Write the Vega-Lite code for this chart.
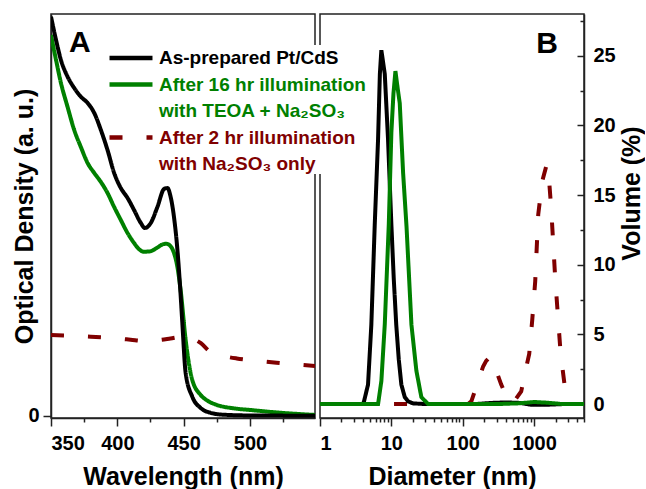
{
  "$schema": "https://vega.github.io/schema/vega-lite/v6.json",
  "background": "white",
  "padding": {"left": 11, "top": 13, "right": 0, "bottom": 0},
  "config": {
    "font": "Liberation Sans",
    "view": {"stroke": "#222222", "strokeWidth": 1.5},
    "axis": {
      "labelFont": "Liberation Sans", "labelFontWeight": "bold", "labelFontSize": 20, "labelColor": "black",
      "titleFont": "Liberation Sans", "titleFontWeight": "bold", "titleFontSize": 25, "titleColor": "black",
      "domainColor": "#222222", "domainWidth": 1.5, "tickColor": "#222222", "tickWidth": 1.5, "grid": false
    }
  },
  "datasets": {
    "uv": [
      {"series": "After 2 hr illumination", "wavelength": 350, "od": 0.323},
      {"series": "After 2 hr illumination", "wavelength": 365, "od": 0.320},
      {"series": "After 2 hr illumination", "wavelength": 380, "od": 0.316},
      {"series": "After 2 hr illumination", "wavelength": 395, "od": 0.311},
      {"series": "After 2 hr illumination", "wavelength": 410, "od": 0.304},
      {"series": "After 2 hr illumination", "wavelength": 420, "od": 0.299},
      {"series": "After 2 hr illumination", "wavelength": 430, "od": 0.302},
      {"series": "After 2 hr illumination", "wavelength": 440, "od": 0.309},
      {"series": "After 2 hr illumination", "wavelength": 449, "od": 0.316},
      {"series": "After 2 hr illumination", "wavelength": 455, "od": 0.311},
      {"series": "After 2 hr illumination", "wavelength": 463, "od": 0.290},
      {"series": "After 2 hr illumination", "wavelength": 470, "od": 0.256},
      {"series": "After 2 hr illumination", "wavelength": 480, "od": 0.239},
      {"series": "After 2 hr illumination", "wavelength": 490, "od": 0.229},
      {"series": "After 2 hr illumination", "wavelength": 505, "od": 0.220},
      {"series": "After 2 hr illumination", "wavelength": 520, "od": 0.212},
      {"series": "After 2 hr illumination", "wavelength": 535, "od": 0.205},
      {"series": "After 2 hr illumination", "wavelength": 549, "od": 0.199},
      {"series": "After 16 hr illumination", "wavelength": 350, "od": 1.523},
      {"series": "After 16 hr illumination", "wavelength": 353.8, "od": 1.423},
      {"series": "After 16 hr illumination", "wavelength": 357.5, "od": 1.331},
      {"series": "After 16 hr illumination", "wavelength": 362.5, "od": 1.235},
      {"series": "After 16 hr illumination", "wavelength": 367.5, "od": 1.143},
      {"series": "After 16 hr illumination", "wavelength": 372.5, "od": 1.075},
      {"series": "After 16 hr illumination", "wavelength": 377.6, "od": 1.011},
      {"series": "After 16 hr illumination", "wavelength": 382.6, "od": 0.971},
      {"series": "After 16 hr illumination", "wavelength": 387.6, "od": 0.935},
      {"series": "After 16 hr illumination", "wavelength": 392.6, "od": 0.891},
      {"series": "After 16 hr illumination", "wavelength": 397.6, "od": 0.835},
      {"series": "After 16 hr illumination", "wavelength": 402.6, "od": 0.783},
      {"series": "After 16 hr illumination", "wavelength": 407.7, "od": 0.731},
      {"series": "After 16 hr illumination", "wavelength": 412.6, "od": 0.691},
      {"series": "After 16 hr illumination", "wavelength": 416, "od": 0.668},
      {"series": "After 16 hr illumination", "wavelength": 420, "od": 0.656},
      {"series": "After 16 hr illumination", "wavelength": 425, "od": 0.658},
      {"series": "After 16 hr illumination", "wavelength": 430, "od": 0.672},
      {"series": "After 16 hr illumination", "wavelength": 434, "od": 0.685},
      {"series": "After 16 hr illumination", "wavelength": 437, "od": 0.688},
      {"series": "After 16 hr illumination", "wavelength": 440, "od": 0.679},
      {"series": "After 16 hr illumination", "wavelength": 442.7, "od": 0.651},
      {"series": "After 16 hr illumination", "wavelength": 445, "od": 0.603},
      {"series": "After 16 hr illumination", "wavelength": 447.7, "od": 0.503},
      {"series": "After 16 hr illumination", "wavelength": 451.5, "od": 0.303},
      {"series": "After 16 hr illumination", "wavelength": 456.5, "od": 0.143},
      {"series": "After 16 hr illumination", "wavelength": 462.8, "od": 0.083},
      {"series": "After 16 hr illumination", "wavelength": 468, "od": 0.060},
      {"series": "After 16 hr illumination", "wavelength": 475, "od": 0.043},
      {"series": "After 16 hr illumination", "wavelength": 487, "od": 0.030},
      {"series": "After 16 hr illumination", "wavelength": 500, "od": 0.023},
      {"series": "After 16 hr illumination", "wavelength": 525, "od": 0.011},
      {"series": "After 16 hr illumination", "wavelength": 549, "od": 0.003},
      {"series": "As-prepared Pt/CdS", "wavelength": 350, "od": 1.596},
      {"series": "As-prepared Pt/CdS", "wavelength": 353.8, "od": 1.503},
      {"series": "As-prepared Pt/CdS", "wavelength": 357.5, "od": 1.423},
      {"series": "As-prepared Pt/CdS", "wavelength": 362.5, "od": 1.356},
      {"series": "As-prepared Pt/CdS", "wavelength": 367.5, "od": 1.311},
      {"series": "As-prepared Pt/CdS", "wavelength": 372.5, "od": 1.276},
      {"series": "As-prepared Pt/CdS", "wavelength": 377.6, "od": 1.251},
      {"series": "As-prepared Pt/CdS", "wavelength": 382.6, "od": 1.211},
      {"series": "As-prepared Pt/CdS", "wavelength": 387.6, "od": 1.143},
      {"series": "As-prepared Pt/CdS", "wavelength": 392.6, "od": 1.063},
      {"series": "As-prepared Pt/CdS", "wavelength": 397.6, "od": 0.971},
      {"series": "As-prepared Pt/CdS", "wavelength": 402.6, "od": 0.911},
      {"series": "As-prepared Pt/CdS", "wavelength": 407.7, "od": 0.871},
      {"series": "As-prepared Pt/CdS", "wavelength": 412.6, "od": 0.823},
      {"series": "As-prepared Pt/CdS", "wavelength": 417.7, "od": 0.771},
      {"series": "As-prepared Pt/CdS", "wavelength": 420.7, "od": 0.751},
      {"series": "As-prepared Pt/CdS", "wavelength": 425.2, "od": 0.771},
      {"series": "As-prepared Pt/CdS", "wavelength": 430.2, "od": 0.835},
      {"series": "As-prepared Pt/CdS", "wavelength": 435.2, "od": 0.907},
      {"series": "As-prepared Pt/CdS", "wavelength": 437.7, "od": 0.911},
      {"series": "As-prepared Pt/CdS", "wavelength": 440.2, "od": 0.875},
      {"series": "As-prepared Pt/CdS", "wavelength": 442.7, "od": 0.795},
      {"series": "As-prepared Pt/CdS", "wavelength": 445.3, "od": 0.663},
      {"series": "As-prepared Pt/CdS", "wavelength": 447.5, "od": 0.500},
      {"series": "As-prepared Pt/CdS", "wavelength": 449, "od": 0.371},
      {"series": "As-prepared Pt/CdS", "wavelength": 451.5, "od": 0.171},
      {"series": "As-prepared Pt/CdS", "wavelength": 456.5, "od": 0.076},
      {"series": "As-prepared Pt/CdS", "wavelength": 462.8, "od": 0.031},
      {"series": "As-prepared Pt/CdS", "wavelength": 470, "od": 0.012},
      {"series": "As-prepared Pt/CdS", "wavelength": 480, "od": 0.004},
      {"series": "As-prepared Pt/CdS", "wavelength": 500, "od": 0.001},
      {"series": "As-prepared Pt/CdS", "wavelength": 549, "od": 0.0}
    ],
    "dls": [
      {"series": "After 2 hr illumination", "d": 10.9, "v": 0},
      {"series": "After 2 hr illumination", "d": 50, "v": 0},
      {"series": "After 2 hr illumination", "d": 119, "v": 0},
      {"series": "After 2 hr illumination", "d": 132, "v": 0.2},
      {"series": "After 2 hr illumination", "d": 193, "v": 2.7},
      {"series": "After 2 hr illumination", "d": 213, "v": 3.1},
      {"series": "After 2 hr illumination", "d": 242, "v": 3.4},
      {"series": "After 2 hr illumination", "d": 285, "v": 2.6},
      {"series": "After 2 hr illumination", "d": 346, "v": 1.4},
      {"series": "After 2 hr illumination", "d": 406, "v": 0.6},
      {"series": "After 2 hr illumination", "d": 462, "v": 0.1},
      {"series": "After 2 hr illumination", "d": 543, "v": 0.3},
      {"series": "After 2 hr illumination", "d": 659, "v": 0.9},
      {"series": "After 2 hr illumination", "d": 750, "v": 2.3},
      {"series": "After 2 hr illumination", "d": 854, "v": 3.6},
      {"series": "After 2 hr illumination", "d": 940, "v": 6.0},
      {"series": "After 2 hr illumination", "d": 1036, "v": 8.8},
      {"series": "After 2 hr illumination", "d": 1142, "v": 13.6},
      {"series": "After 2 hr illumination", "d": 1300, "v": 16.0},
      {"series": "After 2 hr illumination", "d": 1500, "v": 17.2},
      {"series": "After 2 hr illumination", "d": 1577, "v": 16.9},
      {"series": "After 2 hr illumination", "d": 1738, "v": 14.0},
      {"series": "After 2 hr illumination", "d": 1853, "v": 11.5},
      {"series": "After 2 hr illumination", "d": 1977, "v": 9.0},
      {"series": "After 2 hr illumination", "d": 2109, "v": 7.0},
      {"series": "After 2 hr illumination", "d": 2179, "v": 6.0},
      {"series": "After 2 hr illumination", "d": 2324, "v": 4.0},
      {"series": "After 2 hr illumination", "d": 2479, "v": 2.7},
      {"series": "After 2 hr illumination", "d": 2730, "v": 1.0},
      {"series": "After 2 hr illumination", "d": 3208, "v": 0.1},
      {"series": "After 2 hr illumination", "d": 3532, "v": 0},
      {"series": "After 2 hr illumination", "d": 4885, "v": 0},
      {"series": "As-prepared Pt/CdS", "d": 1, "v": 0},
      {"series": "As-prepared Pt/CdS", "d": 4.0, "v": 0},
      {"series": "As-prepared Pt/CdS", "d": 4.14, "v": 0.2},
      {"series": "As-prepared Pt/CdS", "d": 4.71, "v": 1.4},
      {"series": "As-prepared Pt/CdS", "d": 5.24, "v": 5.7},
      {"series": "As-prepared Pt/CdS", "d": 5.85, "v": 12.9},
      {"series": "As-prepared Pt/CdS", "d": 6.51, "v": 19.0},
      {"series": "As-prepared Pt/CdS", "d": 6.9, "v": 23.7},
      {"series": "As-prepared Pt/CdS", "d": 7.24, "v": 25.4},
      {"series": "As-prepared Pt/CdS", "d": 8.08, "v": 23.7},
      {"series": "As-prepared Pt/CdS", "d": 8.98, "v": 19.0},
      {"series": "As-prepared Pt/CdS", "d": 10.0, "v": 12.9},
      {"series": "As-prepared Pt/CdS", "d": 10.8, "v": 9.0},
      {"series": "As-prepared Pt/CdS", "d": 11.7, "v": 5.7},
      {"series": "As-prepared Pt/CdS", "d": 12.7, "v": 3.2},
      {"series": "As-prepared Pt/CdS", "d": 13.8, "v": 1.4},
      {"series": "As-prepared Pt/CdS", "d": 15.4, "v": 0.5},
      {"series": "As-prepared Pt/CdS", "d": 17.1, "v": 0.2},
      {"series": "As-prepared Pt/CdS", "d": 20, "v": 0.05},
      {"series": "As-prepared Pt/CdS", "d": 30, "v": 0},
      {"series": "As-prepared Pt/CdS", "d": 150, "v": 0},
      {"series": "As-prepared Pt/CdS", "d": 250, "v": 0.08},
      {"series": "As-prepared Pt/CdS", "d": 400, "v": 0.12},
      {"series": "As-prepared Pt/CdS", "d": 650, "v": 0.08},
      {"series": "As-prepared Pt/CdS", "d": 900, "v": -0.05},
      {"series": "As-prepared Pt/CdS", "d": 1500, "v": -0.05},
      {"series": "As-prepared Pt/CdS", "d": 2500, "v": 0},
      {"series": "As-prepared Pt/CdS", "d": 5000, "v": 0},
      {"series": "After 16 hr illumination", "d": 1, "v": 0},
      {"series": "After 16 hr illumination", "d": 6.51, "v": 0},
      {"series": "After 16 hr illumination", "d": 7.24, "v": 1.65},
      {"series": "After 16 hr illumination", "d": 8.08, "v": 5.7},
      {"series": "After 16 hr illumination", "d": 9.2, "v": 12.9},
      {"series": "After 16 hr illumination", "d": 10.0, "v": 19.5},
      {"series": "After 16 hr illumination", "d": 10.7, "v": 22.3},
      {"series": "After 16 hr illumination", "d": 11.4, "v": 23.9},
      {"series": "After 16 hr illumination", "d": 12.3, "v": 22.6},
      {"series": "After 16 hr illumination", "d": 13.1, "v": 21.6},
      {"series": "After 16 hr illumination", "d": 14.6, "v": 16.6},
      {"series": "After 16 hr illumination", "d": 16.3, "v": 12.75},
      {"series": "After 16 hr illumination", "d": 19.1, "v": 5.7},
      {"series": "After 16 hr illumination", "d": 22.4, "v": 2.4},
      {"series": "After 16 hr illumination", "d": 26.3, "v": 0.5},
      {"series": "After 16 hr illumination", "d": 32.7, "v": 0},
      {"series": "After 16 hr illumination", "d": 300, "v": 0},
      {"series": "After 16 hr illumination", "d": 600, "v": 0.05},
      {"series": "After 16 hr illumination", "d": 1000, "v": 0.15},
      {"series": "After 16 hr illumination", "d": 1500, "v": 0.1},
      {"series": "After 16 hr illumination", "d": 2500, "v": 0},
      {"series": "After 16 hr illumination", "d": 5000, "v": 0}
    ]
  },
  "spacing": 2,
  "hconcat": [
    {
      "width": 264,
      "height": 404,
      "data": {"name": "uv"},
      "layer": [
        {
          "mark": {"type": "line", "strokeWidth": 4, "interpolate": "monotone", "clip": true},
          "encoding": {
            "x": {"field": "wavelength", "type": "quantitative",
                  "scale": {"domain": [350, 549], "nice": false, "zero": false},
                  "axis": {"orient": "bottom", "values": [350, 400, 450, 500], "title": "Wavelength (nm)", "tickSize": 8, "labelPadding": 7, "titlePadding": 11}},
            "y": {"field": "od", "type": "quantitative",
                  "scale": {"domain": [-0.0092, 1.607], "nice": false, "zero": false},
                  "axis": {"orient": "left", "values": [0], "title": "Optical Density (a. u.)", "tickSize": 8, "labelPadding": 4, "titleAngle": 270, "titleBaseline": "alphabetic", "titleAlign": "center", "titleX": -19, "titleY": 202}},
            "color": {"field": "series", "type": "nominal",
                      "scale": {"domain": ["As-prepared Pt/CdS", "After 16 hr illumination", "with TEOA + Na₂SO₃", "After 2 hr illumination", "with Na₂SO₃ only"],
                                "range": ["#000000", "#008000", "#008000", "#800000", "#800000"]},
                      "legend": {"title": null, "orient": "none", "legendX": 67, "legendY": 31, "symbolType": "M-2,0H2", "symbolSize": 462, "symbolStrokeWidth": 4.5,
                                 "labelFont": "Liberation Sans", "labelFontSize": 19, "labelFontWeight": "bold", "labelOffset": 15, "rowPadding": 3.5, "padding": 0,
                                 "fillColor": "white", "labelLimit": 400,
                                 "encode": {"labels": {"update": {"fill": {"scale": "color", "field": "value"}}},
                                            "symbols": {"update": {"opacity": {"signal": "datum.value === 'with TEOA + Na₂SO₃' || datum.value === 'with Na₂SO₃ only' ? 0 : 1"}}}}}},
            "strokeDash": {"field": "series", "type": "nominal",
                           "scale": {"domain": ["As-prepared Pt/CdS", "After 16 hr illumination", "with TEOA + Na₂SO₃", "After 2 hr illumination", "with Na₂SO₃ only"],
                                     "range": [[1, 0], [1, 0], [1, 0], [13, 24], [13, 24]]},
                           "legend": {"title": null, "orient": "none", "legendX": 67, "legendY": 31, "symbolType": "M-2,0H2", "symbolSize": 462, "symbolStrokeWidth": 4.5,
                                      "labelFont": "Liberation Sans", "labelFontSize": 19, "labelFontWeight": "bold", "labelOffset": 15, "rowPadding": 3.5, "padding": 0,
                                      "fillColor": "white", "labelLimit": 400}}
          }
        },
        {
          "mark": {"type": "line", "opacity": 0},
          "encoding": {
            "x": {"field": "wavelength", "type": "quantitative",
                  "axis": {"orient": "bottom", "values": [375, 425, 475, 525], "labels": false, "domain": false, "title": null, "tickSize": 4}},
            "y": {"field": "od", "type": "quantitative", "axis": null}
          }
        },
        {
          "data": {"values": [{}]},
          "mark": {"type": "text", "text": "A", "font": "Liberation Sans", "fontSize": 30, "fontWeight": "bold", "align": "left", "baseline": "alphabetic", "color": "black"},
          "encoding": {
            "x": {"datum": 363.5, "type": "quantitative", "axis": null},
            "y": {"datum": 1.455, "type": "quantitative", "axis": null}
          }
        }
      ],
      "resolve": {"axis": {"x": "independent", "y": "independent"}}
    },
    {
      "width": 264,
      "height": 404,
      "data": {"name": "dls"},
      "layer": [
        {
          "mark": {"type": "line", "strokeWidth": 4, "clip": true},
          "encoding": {
            "x": {"field": "d", "type": "quantitative",
                  "scale": {"type": "log", "domain": [1, 5000], "nice": false},
                  "axis": {"orient": "bottom", "values": [1, 10, 100, 1000], "format": "d", "title": "Diameter (nm)", "tickSize": 8, "labelPadding": 7, "titlePadding": 11}},
            "y": {"field": "v", "type": "quantitative",
                  "scale": {"domain": [-1, 28], "nice": false, "zero": false},
                  "axis": {"orient": "right", "values": [0, 5, 10, 15, 20, 25], "title": "Volume (%)", "tickSize": -7, "labelPadding": 16,
                           "titleAngle": 270, "titleBaseline": "alphabetic", "titleAlign": "center", "titleX": 55, "titleY": 179}},
            "color": {"field": "series", "type": "nominal",
                      "scale": {"domain": ["As-prepared Pt/CdS", "After 16 hr illumination", "with TEOA + Na₂SO₃", "After 2 hr illumination", "with Na₂SO₃ only"],
                                "range": ["#000000", "#008000", "#008000", "#800000", "#800000"]},
                      "legend": {"title": null, "orient": "none", "legendX": 67, "legendY": 31, "symbolType": "M-2,0H2", "symbolSize": 462, "symbolStrokeWidth": 4.5,
                                 "labelFont": "Liberation Sans", "labelFontSize": 19, "labelFontWeight": "bold", "labelOffset": 15, "rowPadding": 3.5, "padding": 0,
                                 "fillColor": "white", "labelLimit": 400,
                                 "encode": {"labels": {"update": {"fill": {"scale": "color", "field": "value"}}},
                                            "symbols": {"update": {"opacity": {"signal": "datum.value === 'with TEOA + Na₂SO₃' || datum.value === 'with Na₂SO₃ only' ? 0 : 1"}}}}}},
            "strokeDash": {"field": "series", "type": "nominal",
                           "scale": {"domain": ["As-prepared Pt/CdS", "After 16 hr illumination", "with TEOA + Na₂SO₃", "After 2 hr illumination", "with Na₂SO₃ only"],
                                     "range": [[1, 0], [1, 0], [1, 0], [13, 24], [13, 24]]},
                           "legend": {"title": null, "orient": "none", "legendX": 67, "legendY": 31, "symbolType": "M-2,0H2", "symbolSize": 462, "symbolStrokeWidth": 4.5,
                                      "labelFont": "Liberation Sans", "labelFontSize": 19, "labelFontWeight": "bold", "labelOffset": 15, "rowPadding": 3.5, "padding": 0,
                                      "fillColor": "white", "labelLimit": 400}}
          }
        },
        {
          "mark": {"type": "line", "opacity": 0},
          "encoding": {
            "x": {"field": "d", "type": "quantitative",
                  "axis": {"orient": "bottom", "values": [2, 3, 4, 5, 6, 7, 8, 9, 20, 30, 40, 50, 60, 70, 80, 90, 200, 300, 400, 500, 600, 700, 800, 900, 2000, 3000, 4000, 5000], "labels": false, "domain": false, "title": null, "tickSize": 4}},
            "y": {"field": "v", "type": "quantitative",
                  "axis": {"orient": "right", "values": [2.5, 7.5, 12.5, 17.5, 22.5, 27.5], "labels": false, "domain": false, "title": null, "tickSize": -4}}
          }
        },
        {
          "data": {"values": [{}]},
          "mark": {"type": "text", "text": "B", "font": "Liberation Sans", "fontSize": 30, "fontWeight": "bold", "align": "left", "baseline": "alphabetic", "color": "black"},
          "encoding": {
            "x": {"datum": 1071, "type": "quantitative", "axis": null},
            "y": {"datum": 25.2, "type": "quantitative", "axis": null}
          }
        }
      ],
      "resolve": {"axis": {"x": "independent", "y": "independent"}}
    }
  ]
}
